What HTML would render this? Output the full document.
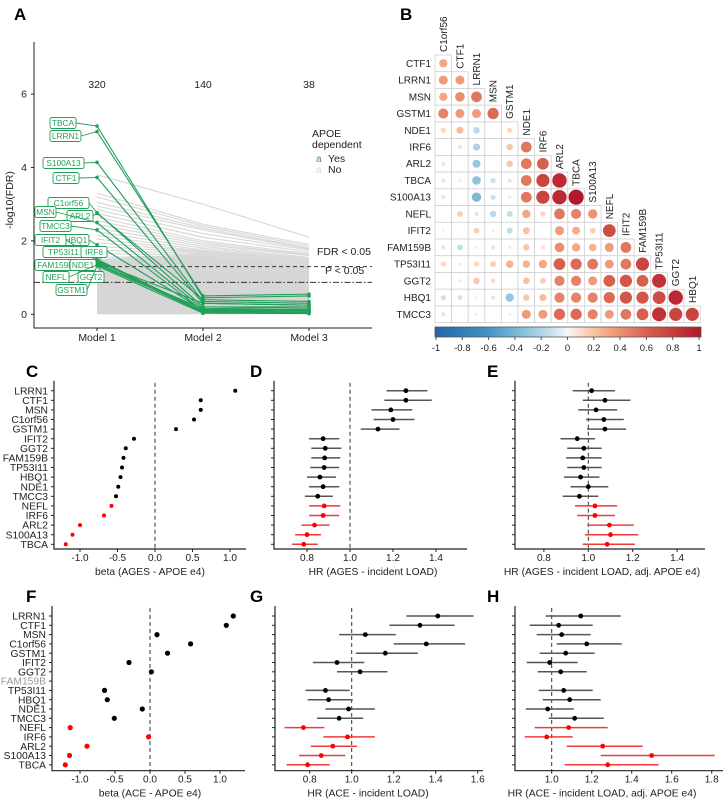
<!DOCTYPE html>
<html><head><meta charset="utf-8">
<style>
html,body{margin:0;padding:0;background:#fff;}
svg{display:block;font-family:"Liberation Sans",Arial,sans-serif;}
</style></head>
<body>
<svg id="fig" width="726" height="799" viewBox="0 0 726 799" xmlns="http://www.w3.org/2000/svg"></svg>
<script>
// ---------- DATA ----------
// Panel A
const aGreenGenes=["TBCA","LRRN1","S100A13","CTF1","C1orf56","ARL2","MSN","TMCC3","HBQ1","IFIT2","FAM159B","TP53I11","IRF6","NDE1","GGT2","NEFL","GSTM1"];
const aGreenM1=[5.13,4.98,4.14,3.73,2.77,2.75,2.5,2.3,1.89,1.5,1.48,1.45,1.42,1.4,1.38,1.35,1.32];
const aGreenM2=[0.45,0.5,0.35,0.3,0.2,0.4,0.15,0.1,0.12,0.08,0.05,0.1,0.3,0.05,0.15,0.1,0.03];
const aGreenM3=[0.5,0.55,0.3,0.25,0.2,0.35,0.1,0.12,0.15,0.05,0.03,0.08,0.25,0.04,0.2,0.1,0.02];
const aGrayM1=[3.8,3.3,3.2,3.05,2.95,2.85,2.75,2.65,2.55,2.45,2.35,2.25,2.15,2.05,1.95,1.85,1.75,1.65,1.55,1.45];
const aGrayM2=[3.0,2.45,2.4,2.35,2.3,2.2,2.1,2.0,1.95,1.9,1.85,1.8,1.75,1.72,1.7,1.68,1.65,1.62,1.6,1.6];
const aGrayM3=[2.1,1.9,1.85,1.8,1.78,1.75,1.7,1.65,1.62,1.6,1.55,1.52,1.5,1.48,1.45,1.42,1.4,1.38,1.35,1.32];
const aCounts=["320","140","38"];
const aModels=["Model 1","Model 2","Model 3"];
const aYTicks=[0,2,4,6];
// Panel B
const bGenes=["C1orf56","CTF1","LRRN1","MSN","GSTM1","NDE1","IRF6","ARL2","TBCA","S100A13","NEFL","IFIT2","FAM159B","TP53I11","GGT2","HBQ1","TMCC3"];
const bCorr=[
[0.3],
[0.35,0.35],
[0.3,0.4,0.5],
[0.45,0.35,0.35,0.55],
[0.12,0.22,-0.18,0,0.12],
[0,0.08,-0.22,0,0.18,0.5],
[0.08,0,-0.28,0,0.18,0.5,0.6],
[-0.08,-0.05,-0.32,-0.12,0.08,0.5,0.75,0.9],
[-0.08,0,-0.38,-0.12,0.05,0.5,0.75,0.9,1.0],
[0,0.15,-0.08,-0.18,-0.15,0.3,0.12,0.5,0.45,0.38],
[0.04,0,0.15,-0.04,-0.15,0.2,0,0.35,0.28,0.15,0.7],
[-0.08,-0.15,-0.04,-0.08,-0.05,0.18,0.08,0.4,0.3,0.25,0.35,0.5],
[0.12,0.05,0.12,0.15,0.25,0.25,0.3,0.6,0.55,0.5,0.35,0.5,0.75],
[0,-0.05,0.18,0.1,0,0.2,0.15,0.45,0.45,0.35,0.6,0.65,0.6,0.85],
[-0.12,-0.1,-0.04,-0.08,-0.3,0.18,0.22,0.45,0.45,0.45,0.55,0.65,0.65,0.7,0.9],
[-0.08,0,-0.04,0,0.04,0.35,0.35,0.55,0.55,0.45,0.35,0.5,0.6,0.85,0.75,0.75]];
const bBarTicks=["-1","-0.8","-0.6","-0.4","-0.2","0","0.2","0.4","0.6","0.8","1"];
// Forest panels
const fGenes=["LRRN1","CTF1","MSN","C1orf56","GSTM1","IFIT2","GGT2","FAM159B","TP53I11","HBQ1","NDE1","TMCC3","NEFL","IRF6","ARL2","S100A13","TBCA"];
const cBeta=[1.07,0.61,0.61,0.52,0.28,-0.28,-0.39,-0.42,-0.44,-0.46,-0.49,-0.52,-0.58,-0.68,-1.0,-1.1,-1.19];
const dHR=[1.26,1.26,1.19,1.2,1.13,0.875,0.885,0.882,0.88,0.86,0.875,0.85,0.88,0.875,0.835,0.8,0.785];
const dLo=[1.17,1.16,1.10,1.11,1.05,0.81,0.82,0.82,0.815,0.8,0.81,0.79,0.81,0.81,0.775,0.745,0.73];
const dHi=[1.36,1.38,1.29,1.30,1.23,0.95,0.96,0.955,0.95,0.935,0.95,0.92,0.955,0.95,0.905,0.865,0.85];
const eHR=[1.015,1.075,1.035,1.07,1.075,0.95,0.98,0.975,0.98,0.965,1.0,0.96,1.03,1.03,1.095,1.1,1.085];
const eLo=[0.93,0.975,0.955,0.99,0.995,0.875,0.905,0.9,0.905,0.89,0.92,0.885,0.94,0.95,0.995,0.985,0.975];
const eHi=[1.12,1.19,1.13,1.16,1.17,1.03,1.06,1.06,1.06,1.05,1.09,1.045,1.13,1.12,1.205,1.225,1.21];
const fBeta=[1.19,1.09,0.1,0.58,0.25,-0.3,0.02,null,-0.65,-0.61,-0.11,-0.51,-1.14,-0.02,-0.9,-1.15,-1.21];
const gHR=[1.41,1.325,1.065,1.355,1.16,0.93,1.04,null,0.875,0.89,0.985,0.94,0.77,0.98,0.91,0.855,0.79];
const gLo=[1.26,1.18,0.94,1.2,1.02,0.815,0.93,null,0.78,0.79,0.875,0.835,0.68,0.865,0.805,0.75,0.69];
const gHi=[1.58,1.49,1.21,1.54,1.315,1.06,1.17,null,0.99,1.005,1.11,1.055,0.87,1.11,1.025,0.97,0.895];
const hHR=[1.145,1.035,1.05,1.175,1.07,0.99,1.045,null,1.06,1.09,0.98,1.115,1.085,0.975,1.255,1.5,1.28];
const hLo=[0.97,0.89,0.925,1.025,0.94,0.875,0.93,null,0.935,0.955,0.87,0.985,0.915,0.865,1.075,1.245,1.065];
const hHi=[1.345,1.205,1.195,1.35,1.215,1.13,1.175,null,1.205,1.245,1.11,1.26,1.28,1.105,1.455,1.815,1.535];
const redFrom=12;
const betaTicks=[-1,-0.5,0,0.5,1];
const hrTicksD=[0.8,1.0,1.2,1.4];
const hrTicksG=[0.8,1.0,1.2,1.4,1.6];
const hrTicksH=[1.0,1.2,1.4,1.6,1.8];

// ---------- HELPERS ----------
const NS="http://www.w3.org/2000/svg";
const svg=document.getElementById("fig");
function mk(tag,attrs,parent){const e=document.createElementNS(NS,tag);for(const k in attrs)e.setAttribute(k,attrs[k]);(parent||svg).appendChild(e);return e;}
function txt(s,x,y,size,anchor,parent,extra){const t=mk("text",Object.assign({x:x,y:y,"font-size":size,"text-anchor":anchor||"start",fill:"#222"},extra||{}),parent);t.textContent=s;return t;}
function grp(){return mk("g",{});}
function fmt(v){return v.toFixed(1);}

// ---------- PANEL LETTERS ----------
[["A",14,20],["B",400,20],["C",26,377],["D",250,377],["E",487,377],["F",26,602],["G",250,602],["H",487,602]].forEach(function(p){
  const t=txt(p[0],p[1],p[2],17,"start",svg,{"font-weight":"bold",fill:"#000"});
  
  
});

// ---------- PANEL A ----------
(function(){
  const g=grp();
  
  
  const mx=[97,203,309];
  const y=function(v){return 314.3-v*36.7;};
  // fill band
  const band=mk("polygon",{points:[mx[0]+","+y(0),mx[0]+","+y(1.5),mx[1]+","+y(1.65),mx[2]+","+y(1.45),mx[2]+","+y(0)].join(" "),fill:"#d6d6d6"},g);
  
  
  for(let i=0;i<aGrayM1.length;i++){
    const l=mk("polyline",{points:mx[0]+","+y(aGrayM1[i])+" "+mx[1]+","+y(aGrayM2[i])+" "+mx[2]+","+y(aGrayM3[i]),fill:"none",stroke:"#d9d9d9","stroke-width":1.2},g);
    
    
  }
  // thresholds
  const fdr=mk("line",{x1:34,x2:372,y1:y(1.3),y2:y(1.3),stroke:"#333","stroke-dasharray":"4,3","stroke-width":1},g);
  
  
  const pl=mk("line",{x1:34,x2:372,y1:y(0.87),y2:y(0.87),stroke:"#333","stroke-dasharray":"6,2,1.5,2","stroke-width":1},g);
  
  
  const ft=txt("FDR < 0.05",317,255,10.5,"start",g);  
  const pt=txt("P < 0.05",325,274,10.5,"start",g);  
  // green lines
  for(let i=0;i<aGreenGenes.length;i++){
    const l=mk("polyline",{points:mx[0]+","+y(aGreenM1[i])+" "+mx[1]+","+y(aGreenM2[i])+" "+mx[2]+","+y(aGreenM3[i]),fill:"none",stroke:"#22a05a","stroke-width":1.1},g);
    
    
    [aGreenM1[i],aGreenM2[i],aGreenM3[i]].forEach(function(v,k){
      const c=mk("circle",{cx:mx[k],cy:y(v),r:1.8,fill:"#22a05a"},g);
      
      
    });
  }
  // axes
  const ax=mk("path",{d:"M34,42 V328 H372",fill:"none",stroke:"#222","stroke-width":1},g);
  
  
  aYTicks.forEach(function(v){
    mk("line",{x1:31,x2:34,y1:y(v),y2:y(v),stroke:"#222"},g);
    const t=txt(String(v),27,y(v)+3.5,10.5,"end",g);
    
    
  });
  const yt=txt("-log10(FDR)",0,0,10.5,"middle",g,{transform:"translate(13,200) rotate(-90)"});
  
  
  for(let k=0;k<3;k++){
    mk("line",{x1:mx[k],x2:mx[k],y1:328,y2:331,stroke:"#222"},g);
    const t=txt(aModels[k],mx[k],341,10.5,"middle",g);
    
    
    const c=txt(aCounts[k],mx[k],88,10.5,"middle",g);
    
    
  }
  // legend
  const lg=grp();
  
  
  txt("APOE",312,137,10.5,"start",lg);
  txt("dependent",312,148,10.5,"start",lg);
  txt("a",316,162,10,"start",lg,{fill:"#22a05a"});
  txt("Yes",328,162,10.5,"start",lg);
  txt("a",316,173,10,"start",lg,{fill:"#d9d9d9"});
  txt("No",328,173,10.5,"start",lg);
  // gene labels
  const labs={TBCA:[50,123],LRRN1:[50,136],S100A13:[43,163],CTF1:[53,178],C1orf56:[48,203],MSN:[35,212],ARL2:[67,216],TMCC3:[40,226],IFIT2:[35,240],HBQ1:[63,240],TP53I11:[43,252],IRF6:[81,252],FAM159B:[35,265],NDE1:[70,265],NEFL:[43,277],GGT2:[78,277],GSTM1:[56,290]};
  aGreenGenes.forEach(function(gn,i){
    const p=labs[gn];
    const w=gn.length*5.0+6;
    const py=y(aGreenM1[i]);
    const cl=mk("line",{x1:p[0]+w,y1:p[1],x2:mx[0],y2:py,stroke:"#22a05a","stroke-width":0.9},g);
    
    
    const r=mk("rect",{x:p[0],y:p[1]-5.5,width:w,height:11,rx:2,fill:"#fff",stroke:"#22a05a","stroke-width":0.9},g);
    
    
    const t=txt(gn,p[0]+w/2,p[1]+3,8.3,"middle",g,{fill:"#22a05a"});
    
    
  });
})();

// ---------- PANEL B ----------
const stops=[[-1,[33,102,172]],[-0.6,[67,147,195]],[-0.3,[146,197,222]],[-0.1,[209,229,240]],[0,[247,247,247]],[0.1,[253,219,199]],[0.3,[244,165,130]],[0.6,[214,96,77]],[1,[178,24,43]]];
function rdbu(v){
  for(let i=0;i<stops.length-1;i++){
    const a=stops[i],b=stops[i+1];
    if(v<=b[0]){const t=(v-a[0])/(b[0]-a[0]);return "rgb("+a[1].map(function(c,k){return Math.round(c+(b[1][k]-c)*t);}).join(",")+")";}
  }
  return "rgb(178,24,43)";
}
(function(){
  const g=grp();
  
  
  const gx=435,cw=16.6,gy=55,ch=16.73;
  for(let r=0;r<bCorr.length;r++){
    const rl=txt(bGenes[r+1],431,gy+r*ch+ch/2+3.5,10,"end",g);
    
    
    for(let c=0;c<bCorr[r].length;c++){
      const x=gx+c*cw,yy=gy+r*ch;
      const cell=mk("rect",{x:x,y:yy,width:cw,height:ch,fill:"#fff",stroke:"#d0d0d0","stroke-width":0.8},g);
      
      
      const v=bCorr[r][c];
      if(Math.abs(v)>0.01){
        const ci=mk("circle",{cx:x+cw/2,cy:yy+ch/2,r:Math.sqrt(Math.abs(v))*7.6,fill:rdbu(v)},g);
        
        
      }
    }
  }
  for(let c=0;c<16;c++){
    const x=gx+c*cw+cw/2+3.5, yy=gy+c*ch-3;
    const t=txt(bGenes[c],0,0,10,"start",g,{transform:"translate("+x+","+yy+") rotate(-90)"});
    
    
  }
  // colorbar
  const defs=mk("defs",{},g);
  const lgd=mk("linearGradient",{id:"cb",x1:"0",x2:"1",y1:"0",y2:"0"},defs);
  for(let i=0;i<=20;i++){const v=-1+i*0.1;mk("stop",{offset:(i/20),"stop-color":rdbu(v)},lgd);}
  const bar=mk("rect",{x:435,y:327,width:266,height:10,fill:"url(#cb)",stroke:"#555","stroke-width":0.8},g);
  
  
  bBarTicks.forEach(function(s,i){
    const x=436+i*(699-436)/10;
    mk("line",{x1:x,x2:x,y1:337,y2:340,stroke:"#555"},g);
    const t=txt(s,x,351,9.5,"middle",g);
    
    
  });
})();

// ---------- FOREST PANELS ----------
function forest(o){
  const g=grp();
  
  
  const X=function(v){return o.x0+(v-o.v0)*o.k;};
  const Y=function(i){return o.top+i*o.step;};
  const dl=mk("line",{x1:X(o.ref),x2:X(o.ref),y1:o.top-8,y2:o.bottom,stroke:"#333","stroke-dasharray":"4,3","stroke-width":1},g);
  
  
  for(let i=0;i<fGenes.length;i++){
    mk("line",{x1:o.left-3,x2:o.left,y1:Y(i),y2:Y(i),stroke:"#222"},g);
    if(o.labels){
      const lt=txt(fGenes[i],o.left-6,Y(i)+3.6,10.3,"end",g,{fill:(o.grayRow===i?"#999":"#222")});
      
      
    }
    const v=o.est[i];
    if(v===null||v===undefined)continue;
    const red=i>=redFrom;
    if(o.lo){
      const ci=mk("line",{x1:X(o.lo[i]),x2:X(o.hi[i]),y1:Y(i),y2:Y(i),stroke:red?"#f03a3a":"#555","stroke-width":1.5},g);
      
      
    }
    const d=mk("circle",{cx:X(v),cy:Y(i),r:o.r||2.4,fill:red?"#ff0000":"#000"},g);
    
    
  }
  const ax=mk("path",{d:"M"+o.left+","+(o.top-10)+" V"+o.bottom+" H"+o.right,fill:"none",stroke:"#222","stroke-width":1.2},g);
  
  
  o.ticks.forEach(function(v){
    mk("line",{x1:X(v),x2:X(v),y1:o.bottom,y2:o.bottom+3,stroke:"#222"},g);
    const t=txt(fmt(v),X(v),o.bottom+12,10,"middle",g);
    
    
  });
  const tt=txt(o.title,o.tx,o.bottom+26,10.3,"middle",g);
  
  
}
forest({name:"panel-c-beta-ages",left:54,right:246,top:390.7,step:9.6,bottom:549,x0:155,v0:0,k:75,ref:0,est:cBeta,ticks:betaTicks,labels:true,title:"beta (AGES - APOE e4)",tx:150,r:2});
forest({name:"panel-d-hr-ages",left:274,right:467,top:390.7,step:9.6,bottom:549,x0:350,v0:1,k:215,ref:1,est:dHR,lo:dLo,hi:dHi,ticks:hrTicksD,title:"HR (AGES - incident LOAD)",tx:373});
forest({name:"panel-e-hr-ages-adj",left:515,right:705,top:390.7,step:9.6,bottom:549,x0:588.3,v0:1,k:222,ref:1,est:eHR,lo:eLo,hi:eHi,ticks:hrTicksD,title:"HR (AGES - incident LOAD, adj. APOE e4)",tx:602});
forest({name:"panel-f-beta-ace",left:52,right:245,top:616,step:9.3,bottom:770.7,x0:150,v0:0,k:70,ref:0,est:fBeta,ticks:betaTicks,labels:true,grayRow:7,title:"beta (ACE - APOE e4)",tx:150,r:2.6});
forest({name:"panel-g-hr-ace",left:275,right:483,top:616,step:9.3,bottom:770.7,x0:351.7,v0:1,k:210,ref:1,est:gHR,lo:gLo,hi:gHi,ticks:hrTicksG,title:"HR (ACE - incident LOAD)",tx:368});
forest({name:"panel-h-hr-ace-adj",left:515,right:723,top:616,step:9.3,bottom:770.7,x0:551.7,v0:1,k:200,ref:1,est:hHR,lo:hLo,hi:hHi,ticks:hrTicksH,title:"HR (ACE - incident LOAD, adj. APOE e4)",tx:602});
</script>
</body></html>
